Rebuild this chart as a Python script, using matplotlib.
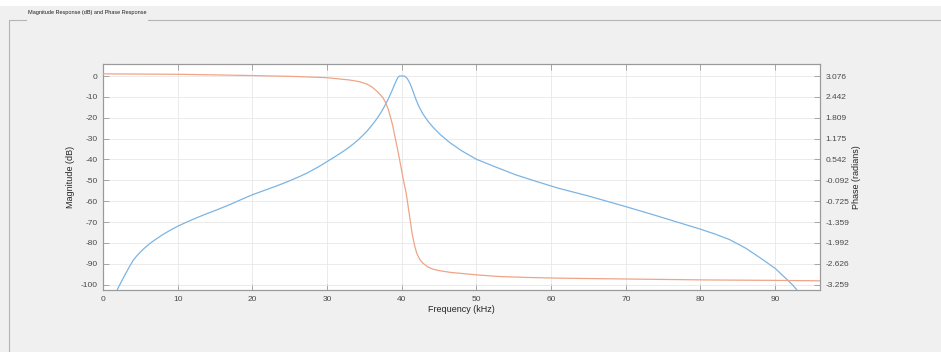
import matplotlib
matplotlib.use("Agg")
import matplotlib.pyplot as plt
from matplotlib.lines import Line2D
from matplotlib.patches import Rectangle

# magnitude response (kHz, dB)
mag_freq = [1.9, 2.2, 2.5, 2.8, 3.2, 3.6, 4.05, 4.5, 5.0, 5.6, 6.3, 7.0, 8.0, 9.0, 10.0,
            11.2, 12.5, 13.8, 15.2, 16.3, 17.5, 18.7, 20.0, 21.0, 22.0, 23.0, 24.1, 25.2,
            26.3, 27.2, 28.0, 29.0, 30.0, 31.0, 32.0, 33.0, 33.6, 34.2, 34.8, 35.3, 35.8,
            36.2, 36.6, 37.0, 37.3, 37.6, 37.9, 38.2, 38.5, 38.7, 38.9, 39.1, 39.3, 39.5,
            39.7, 40.0, 40.3, 40.5, 40.7, 40.9, 41.1, 41.3, 41.5, 41.7, 42.0, 42.3, 42.8,
            43.5, 44.2, 45.2, 46.4, 48.0, 50.0, 52.5, 55.3, 58.0, 61.0, 65.0, 70.0, 73.5,
            76.7, 80.0, 82.0, 83.9, 86.1, 88.3, 90.0, 91.4, 92.3, 92.9]
mag_db = [-102.5, -100.3, -98.3, -96.2, -93.6, -91.0, -88.3, -86.3, -84.4, -82.3, -80.2,
          -78.4, -76.0, -73.9, -72.0, -70.0, -68.0, -66.1, -64.2, -62.6, -60.8, -58.9,
          -56.9, -55.6, -54.3, -53.0, -51.5, -49.9, -48.2, -46.7, -45.2, -43.2, -41.0,
          -38.8, -36.5, -34.0, -32.3, -30.5, -28.4, -26.6, -24.5, -22.7, -20.8, -18.7,
          -17.0, -15.1, -13.1, -11.0, -8.6, -7.0, -5.3, -3.6, -2.0, -0.6, 0.0, 0.0, 0.0,
          -0.4, -1.1, -2.2, -3.6, -5.3, -7.3, -9.3, -12.1, -14.6, -18.0, -21.6, -24.6,
          -28.2, -31.8, -35.8, -39.9, -43.5, -47.4, -50.5, -53.8, -57.5, -62.6, -66.3,
          -69.8, -73.4, -75.8, -78.4, -82.6, -87.9, -92.2, -96.9, -100.0, -102.5]

# phase response (kHz, radians)
ph_freq = [0.0, 10.0, 20.0, 26.0, 30.0, 33.0, 34.3, 35.3, 36.0, 36.6, 37.0, 37.5, 37.9,
           38.2, 38.5, 38.8, 39.05, 39.4, 39.7, 40.15, 40.6, 41.05, 41.4, 41.7, 42.0,
           42.4, 42.8, 43.5, 44.2, 45.1, 46.5, 48.6, 50.0, 53.0, 57.0, 61.0, 70.0, 81.0,
           90.0, 96.0]
ph_rad = [3.141, 3.128, 3.090, 3.060, 3.024, 2.955, 2.905, 2.835, 2.745, 2.63, 2.54,
          2.41, 2.24, 2.06, 1.82, 1.56, 1.28, 0.9, 0.55, 0.0, -0.49, -1.18, -1.72, -2.05,
          -2.3, -2.49, -2.6, -2.72, -2.79, -2.835, -2.885, -2.93, -2.96, -3.01, -3.04,
          -3.06, -3.086, -3.115, -3.128, -3.141]

x_ticks = [0, 10, 20, 30, 40, 50, 60, 70, 80, 90]
mag_ticks = [0, -10, -20, -30, -40, -50, -60, -70, -80, -90, -100]
phase_labels = ["3.076", "2.442", "1.809", "1.175", "0.542", "-0.092", "-0.725",
                "-1.359", "-1.992", "-2.626", "-3.259"]

bg = "#f0f0f0"
axcol = "#9a9a9a"
txtcol = "#4a4a4a"
fs = 6

plt.rcParams["font.family"] = ["Liberation Sans", "DejaVu Sans"]
plt.rcParams["axes.unicode_minus"] = False
fig = plt.figure(figsize=(9.41, 3.52), dpi=100, facecolor=bg)

# top white strip and tab panel outline
W, H = 941.0, 352.0
fig.add_artist(Rectangle((0, 1 - 6 / H), 1, 6 / H, transform=fig.transFigure,
                         facecolor="white", edgecolor="none"))
def px_line(xs, ys):
    fig.add_artist(Line2D([x / W for x in xs], [1 - y / H for y in ys],
                          transform=fig.transFigure, color="#b4b4b4", lw=0.8))
px_line([8.5, 8.5, 26], [352, 19.5, 19.5])
px_line([148, 941], [19.5, 19.5])
fig.text(28 / W, 1 - 12.5 / H, "Magnitude Response (dB) and Phase Response",
         fontsize=4.0, color="#202020", va="center", ha="left")

ax = fig.add_axes([103 / W, 1 - 290 / H, (820 - 103) / W, (290 - 64) / H])
ax.set_facecolor("white")
ylo, yhi = -102.54, 5.75
ax.set_xlim(0, 96)
ax.set_ylim(ylo, yhi)
ax.plot(mag_freq, mag_db, color="#7db4e2", lw=0.9, zorder=3)

ax.set_xticks(x_ticks)
ax.set_yticks(mag_ticks)
ax.grid(True, color="#e8e8e8", lw=0.6)
ax.set_axisbelow(True)
ax.tick_params(direction="in", length=4, width=0.6, color=axcol, labelcolor=txtcol,
               labelsize=fs, top=True, pad=4)
for s in ax.spines.values():
    s.set_color(axcol)
    s.set_linewidth(0.8)
ax.set_xlabel("Frequency (kHz)", fontsize=6.5, color="#262626", labelpad=2)
ax.set_ylabel("Magnitude (dB)", fontsize=6.5, color="#262626", labelpad=4)

# phase axis, ticks aligned with the magnitude ticks
scale = 0.06335
ax2 = ax.twinx()
ax2.set_ylim(3.076 + ylo * scale, 3.076 + yhi * scale)
ax2.plot(ph_freq, ph_rad, color="#f0a486", lw=0.9, zorder=3)
ax2.set_yticks([3.076 + t * scale for t in mag_ticks])
ax2.set_yticklabels(phase_labels)
ax2.tick_params(direction="in", length=4, width=0.6, color=axcol, labelcolor=txtcol,
                labelsize=fs, pad=4)
for s in ax2.spines.values():
    s.set_color(axcol)
    s.set_linewidth(0.8)
ax2.set_ylabel("Phase (radians)", fontsize=6.5, color="#262626", labelpad=2)

fig.savefig("out.png", dpi=100, facecolor=bg)
